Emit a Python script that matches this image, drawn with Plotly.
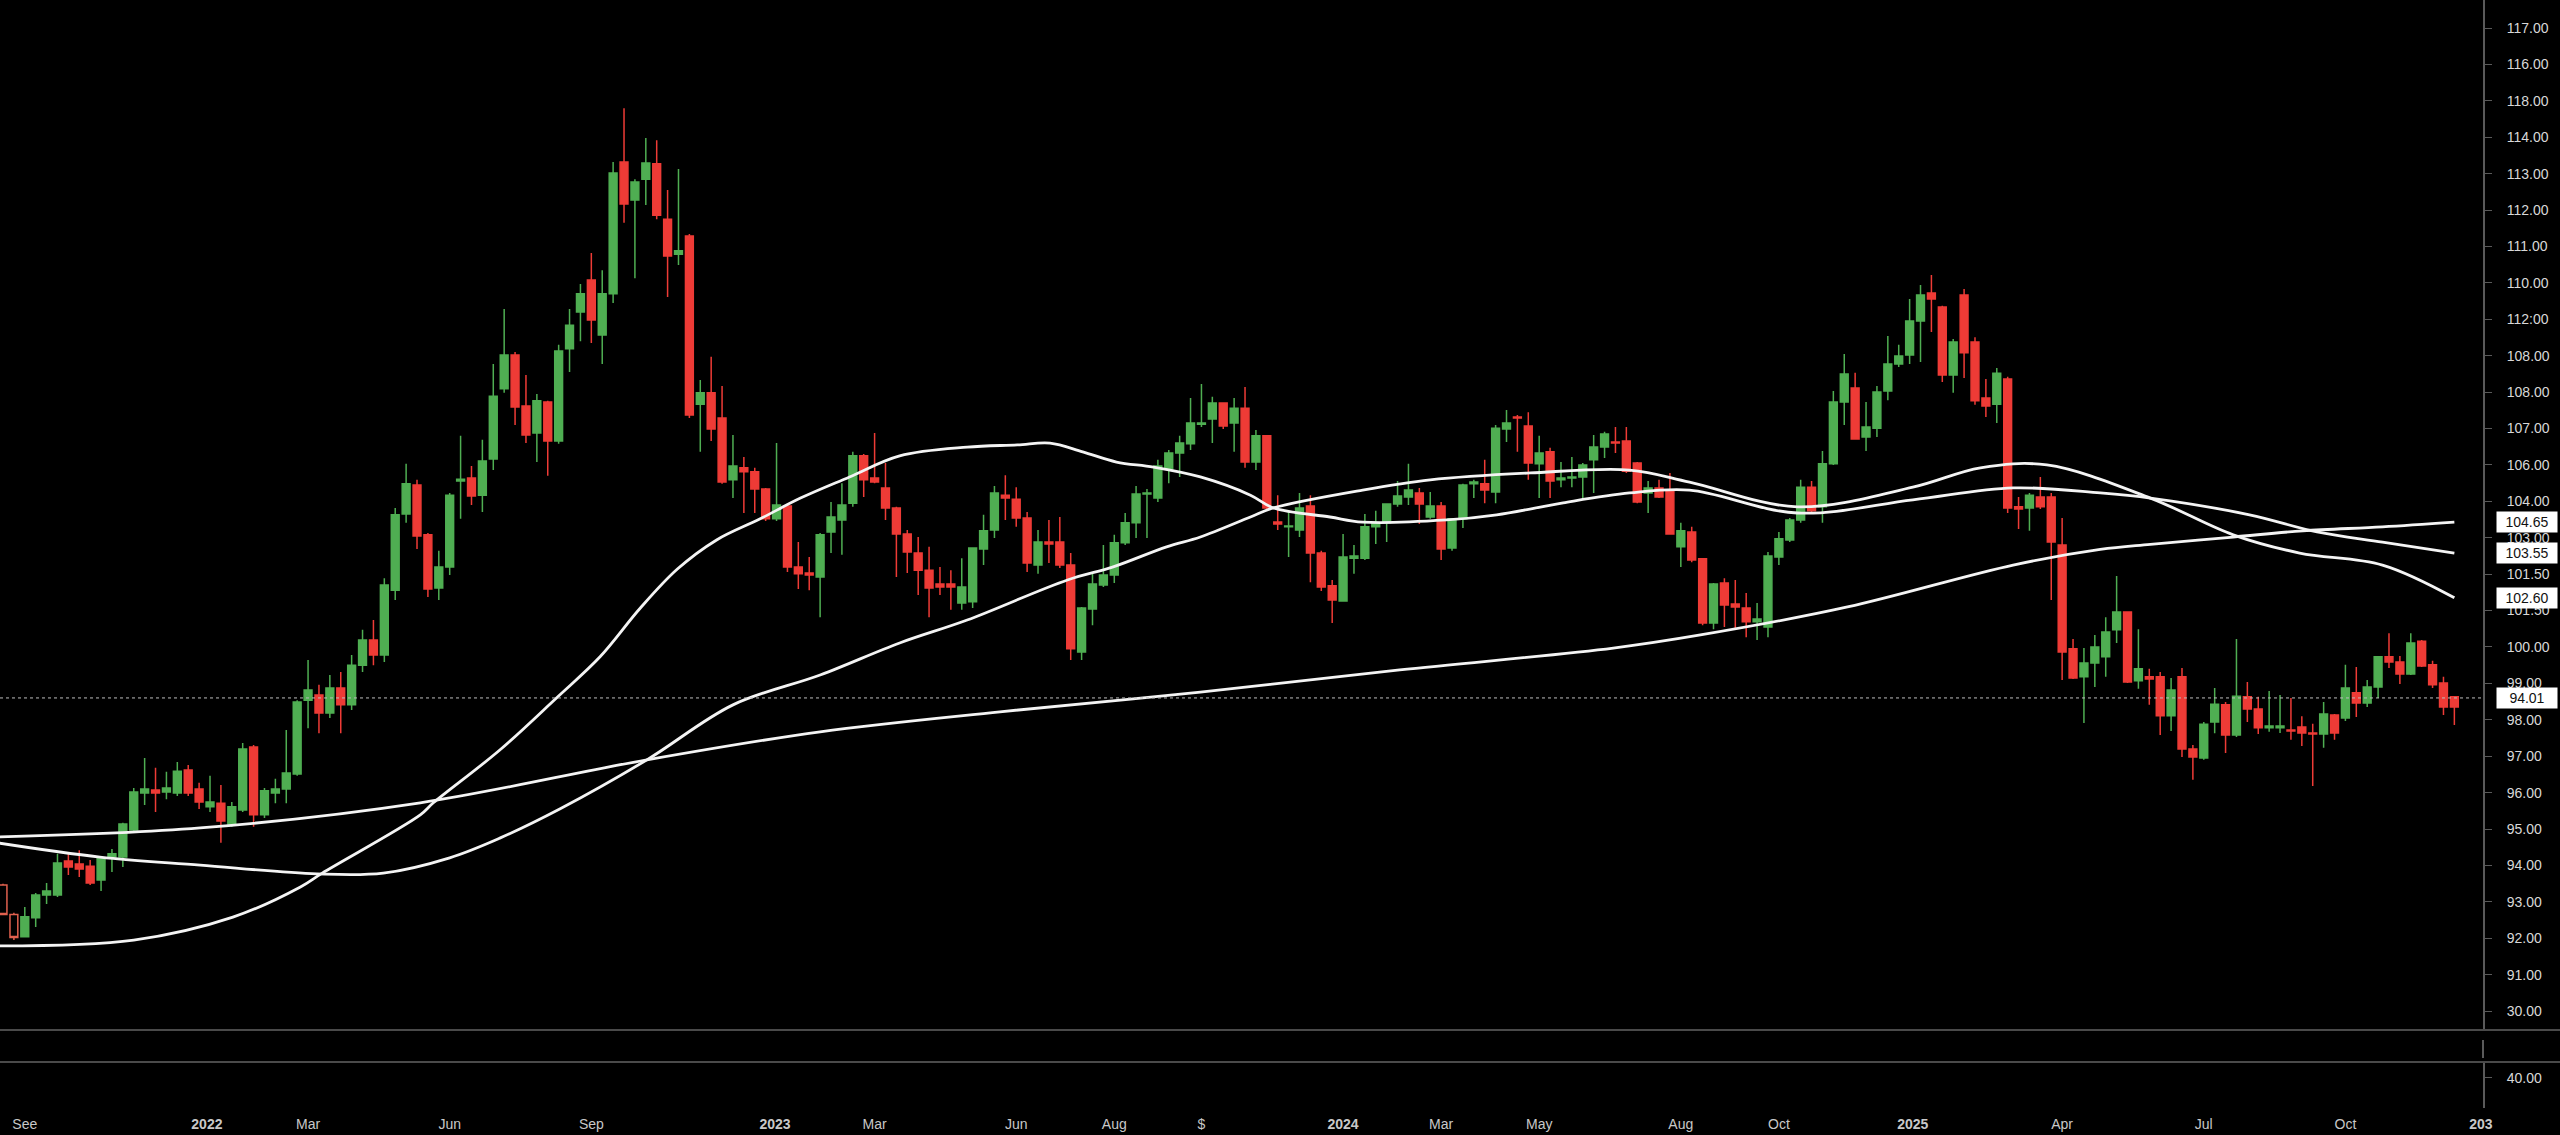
import numpy as np
import pandas as pd
import plotly.graph_objects as go

# ---------------- data (weekly candles) ----------------
start_week = "2021-08-23"

opens = [93.46, 92.65, 92.04, 92.56, 93.19, 93.19, 94.12, 94.04, 93.98, 93.60,
         94.23, 94.23, 94.97, 95.99, 96.07, 96.02, 95.99, 96.62, 96.10, 95.61,
         95.71, 95.14, 95.52, 97.25, 95.39, 95.99, 96.10, 96.51, 98.54, 98.68,
         98.19, 98.87, 98.41, 99.50, 100.19, 99.78, 101.56, 103.65, 104.45, 103.08,
         101.62, 102.20, 104.56, 104.64, 104.17, 105.16, 107.09, 108.02, 106.62, 105.88,
         106.73, 105.66, 108.19, 109.20, 110.08, 108.57, 109.70, 113.32, 112.28, 112.85,
         113.27, 111.75, 110.79, 111.29, 106.67, 106.98, 106.29, 104.59, 104.92, 104.81,
         104.34, 103.52, 103.87, 102.20, 102.03, 101.92, 103.16, 103.49, 103.95, 105.25,
         104.64, 104.37, 103.82, 103.10, 102.58, 102.11, 101.73, 101.73, 101.21, 101.24,
         102.69, 103.21, 104.17, 104.06, 103.54, 102.25, 102.88, 102.88, 102.25, 99.86,
         101.04, 101.70, 101.98, 102.86, 103.41, 104.20, 104.09, 104.89, 105.33, 105.58,
         106.12, 106.26, 106.70, 106.15, 106.56, 105.08, 105.80, 103.43, 103.30, 103.21,
         103.87, 102.58, 101.68, 101.26, 102.44, 102.44, 103.30, 103.41, 103.93, 104.12,
         104.23, 103.57, 103.87, 102.72, 103.52, 104.48, 104.48, 104.26, 105.99, 106.32,
         106.07, 105.03, 105.36, 104.59, 104.64, 104.67, 105.14, 105.49, 105.63, 105.66,
         105.05, 104.23, 104.37, 104.28, 102.75, 103.16, 102.42, 100.66, 101.76, 101.18,
         101.07, 100.69, 100.55, 102.47, 102.94, 103.49, 104.39, 103.85, 105.03, 106.73,
         107.11, 105.77, 106.01, 107.03, 107.77, 108.02, 108.95, 109.72, 109.34, 107.47,
         109.67, 108.38, 106.84, 106.67, 107.36, 103.85, 103.82, 104.12, 104.12, 102.80,
         99.95, 99.18, 99.56, 99.73, 100.47, 100.96, 99.07, 99.18, 99.18, 98.11,
         99.18, 97.20, 96.95, 97.94, 98.41, 97.58, 98.63, 98.30, 97.78, 97.78,
         97.72, 97.80, 97.64, 97.61, 98.13, 98.05, 98.74, 98.46, 98.90, 99.73,
         99.59, 99.26, 100.16, 99.51, 99.01, 98.63]

highs = [93.50, 92.70, 92.86, 93.24, 93.52, 94.32, 94.34, 94.42, 94.15, 94.23,
         94.45, 95.17, 96.13, 96.95, 96.68, 96.57, 96.84, 96.76, 96.27, 96.46,
         96.21, 95.74, 97.36, 97.31, 96.13, 96.38, 97.72, 98.54, 99.64, 98.96,
         99.23, 99.31, 99.78, 100.47, 100.74, 101.89, 103.82, 105.03, 104.59, 103.13,
         102.64, 104.23, 105.80, 104.97, 105.69, 107.77, 109.28, 108.10, 107.47, 106.95,
         106.76, 108.30, 109.28, 109.97, 110.82, 110.35, 113.32, 114.80, 112.85, 113.98,
         113.92, 112.55, 113.13, 111.34, 107.33, 107.97, 107.17, 105.82, 105.22, 104.92,
         104.37, 105.60, 103.90, 102.88, 102.47, 103.13, 103.98, 104.50, 105.36, 105.30,
         105.88, 105.05, 103.85, 103.21, 103.02, 102.75, 102.20, 102.11, 102.44, 102.72,
         103.63, 104.42, 104.72, 104.39, 103.71, 103.21, 103.49, 103.57, 102.58, 101.10,
         102.01, 102.80, 103.08, 103.68, 104.42, 104.34, 105.14, 105.41, 105.80, 106.84,
         107.22, 106.87, 106.70, 106.84, 107.14, 105.96, 105.82, 104.17, 103.71, 104.23,
         104.17, 102.64, 101.84, 103.10, 102.80, 103.65, 103.74, 103.95, 104.56, 105.03,
         104.37, 104.26, 103.98, 103.54, 104.48, 104.59, 105.14, 106.10, 106.51, 106.37,
         106.45, 105.80, 105.47, 105.08, 105.22, 105.05, 105.82, 105.91, 106.04, 106.04,
         105.08, 104.56, 104.59, 104.78, 103.41, 103.30, 102.44, 101.76, 101.89, 101.84,
         101.48, 101.21, 102.61, 103.16, 103.54, 104.59, 104.56, 105.38, 107.03, 108.05,
         107.53, 106.73, 107.17, 108.54, 108.30, 109.56, 109.94, 110.22, 109.37, 108.46,
         109.83, 108.51, 107.36, 107.66, 107.42, 104.12, 104.23, 104.67, 104.23, 103.54,
         100.22, 99.97, 100.33, 100.82, 101.95, 100.96, 100.49, 99.40, 99.31, 99.15,
         99.42, 97.31, 97.94, 98.87, 98.49, 100.22, 99.04, 98.63, 98.79, 98.68,
         98.60, 98.10, 97.89, 98.49, 98.16, 99.51, 99.45, 99.09, 99.75, 100.38,
         99.75, 100.38, 100.19, 99.62, 99.18, 98.65]

lows = [92.63, 91.95, 92.02, 92.31, 92.94, 93.13, 93.74, 93.68, 93.46, 93.30,
        93.82, 93.96, 94.92, 95.66, 95.47, 95.82, 95.91, 95.91, 95.55, 95.47,
        94.62, 95.06, 95.47, 95.06, 95.30, 95.71, 95.71, 96.46, 97.77, 97.63,
        98.05, 97.63, 98.27, 99.31, 99.50, 99.59, 101.29, 103.41, 102.69, 101.37,
        101.29, 101.98, 103.52, 103.90, 103.71, 104.86, 106.98, 106.10, 105.60, 105.08,
        104.70, 105.58, 107.55, 108.40, 108.35, 107.77, 109.45, 111.65, 110.13, 112.14,
        111.75, 109.61, 110.49, 106.29, 105.36, 105.66, 104.48, 104.09, 103.68, 103.68,
        103.46, 103.46, 102.06, 101.59, 101.56, 100.82, 102.58, 102.53, 103.85, 104.12,
        104.50, 103.49, 101.92, 102.03, 101.43, 100.82, 101.43, 101.02, 101.02, 101.07,
        102.25, 102.99, 103.49, 103.30, 102.06, 102.01, 102.31, 102.17, 99.64, 99.64,
        100.60, 101.65, 101.76, 102.80, 102.99, 102.99, 103.98, 104.50, 104.67, 105.41,
        106.04, 105.60, 105.99, 105.36, 104.92, 104.86, 103.76, 103.21, 102.47, 103.02,
        101.78, 101.54, 100.66, 101.24, 102.01, 102.39, 102.83, 102.88, 103.85, 103.90,
        103.38, 103.52, 102.39, 102.64, 103.27, 104.09, 103.95, 103.95, 105.63, 105.36,
        104.59, 104.09, 104.09, 104.39, 104.39, 104.04, 104.23, 105.19, 105.33, 104.78,
        103.95, 103.68, 104.09, 103.08, 102.20, 102.33, 100.60, 100.49, 100.55, 100.52,
        100.27, 100.19, 100.27, 102.25, 102.88, 103.41, 103.68, 103.41, 105.00, 106.10,
        105.69, 105.38, 105.77, 106.78, 107.69, 107.77, 107.83, 108.65, 107.28, 106.98,
        107.39, 106.65, 106.32, 106.15, 103.68, 103.24, 103.19, 103.79, 101.29, 99.09,
        99.12, 97.91, 98.90, 99.18, 100.11, 99.01, 98.85, 98.41, 97.58, 97.69,
        96.98, 96.35, 96.90, 97.63, 97.09, 97.53, 97.94, 97.61, 97.67, 97.64,
        97.45, 97.28, 96.18, 97.23, 97.45, 97.97, 98.08, 98.35, 98.60, 99.42,
        98.98, 99.23, 99.45, 98.87, 98.13, 97.86]

closes = [92.65, 92.02, 92.59, 93.19, 93.30, 94.07, 93.96, 93.90, 93.52, 94.21,
          94.32, 95.14, 96.02, 96.10, 95.99, 96.13, 96.59, 95.99, 95.74, 95.74,
          95.22, 95.61, 97.20, 95.39, 96.05, 96.10, 96.54, 98.49, 98.82, 98.19,
          98.87, 98.41, 99.50, 100.19, 99.78, 101.70, 103.63, 104.48, 103.05, 101.59,
          102.20, 104.17, 104.61, 104.15, 105.11, 106.89, 108.02, 106.59, 105.82, 106.76,
          105.66, 108.13, 108.84, 109.70, 108.98, 109.70, 113.02, 112.17, 112.77, 113.29,
          111.86, 110.74, 110.88, 106.37, 106.98, 105.99, 104.53, 104.97, 104.81, 104.34,
          103.52, 103.90, 102.20, 102.01, 101.98, 103.08, 103.57, 103.90, 105.25, 104.59,
          104.53, 103.82, 103.10, 102.61, 102.11, 101.62, 101.65, 101.65, 101.65, 102.72,
          103.19, 104.23, 104.09, 103.54, 102.31, 102.88, 102.83, 102.25, 99.95, 101.07,
          101.73, 101.98, 102.86, 103.41, 104.20, 104.23, 104.97, 105.33, 105.60, 106.15,
          106.15, 106.70, 106.07, 106.56, 105.08, 105.80, 103.82, 103.38, 103.32, 103.82,
          102.58, 101.65, 101.29, 102.47, 102.50, 103.30, 103.41, 103.93, 104.15, 104.31,
          103.93, 103.87, 102.69, 103.52, 104.45, 104.53, 104.31, 106.01, 106.15, 106.29,
          105.05, 105.33, 104.56, 104.64, 104.67, 105.00, 105.49, 105.85, 105.60, 104.83,
          103.98, 104.37, 104.12, 103.10, 103.19, 102.39, 100.66, 101.73, 101.15, 101.10,
          100.69, 100.77, 102.50, 102.97, 103.49, 104.39, 103.74, 105.03, 106.73, 107.50,
          105.71, 106.04, 107.00, 107.77, 107.99, 108.95, 109.67, 109.56, 107.47, 108.38,
          108.08, 106.76, 106.62, 107.52, 103.82, 103.79, 104.17, 103.85, 102.88, 99.86,
          99.15, 99.56, 100.00, 100.41, 100.96, 99.04, 99.40, 99.12, 98.11, 98.82,
          97.20, 96.98, 97.88, 98.43, 97.58, 98.65, 98.30, 97.78, 97.83, 97.83,
          97.69, 97.64, 97.61, 98.16, 97.64, 98.87, 98.46, 98.90, 99.73, 99.59,
          99.26, 100.11, 99.48, 98.96, 98.35, 98.35]

# moving-average lines (position in weeks from start_week, value)
ma_a_weeks = [-0.5, 12, 21.1, 27.3, 29.3, 38.3, 39.5, 45.6, 50.8, 54.8, 58.5, 61.9, 65.5, 69.5,
              73.2, 77.7, 82.3, 88.5, 93.1, 96.1, 99.1, 102.2, 105.6, 109.9, 114.5, 116.6, 121.8,
              124.8, 132.5, 137.1, 143.2, 149.3, 154.8, 164.7, 175.3, 184.5, 192.5, 197.1, 206.2,
              212.4, 218.4, 225]
ma_a_vals = [91.79, 91.95, 92.58, 93.41, 93.79, 95.39, 95.72, 97.17, 98.60, 99.73, 101.07, 102.14,
             102.94, 103.52, 104.09, 104.67, 105.25, 105.49, 105.55, 105.60, 105.36, 105.08, 104.94,
             104.67, 104.17, 103.82, 103.57, 103.43, 103.49, 103.63, 103.96, 104.23, 104.31, 103.68,
             104.04, 104.37, 104.23, 104.09, 103.63, 103.16, 102.88, 102.58]

ma_b_weeks = [-0.5, 8.9, 18.1, 28.8, 34.9, 41.0, 45.6, 51.1, 59.1, 67.0, 75.0, 82.3, 88.5, 97.7,
              101.9, 106.8, 109.9, 114.5, 116.6, 124.8, 131.0, 140.2, 149.3, 154.8, 164.7, 175.3,
              181.5, 187.6, 197.1, 204.7, 210.8, 218.4, 225]
ma_b_vals = [94.62, 94.23, 94.01, 93.77, 93.79, 94.21, 94.75, 95.55, 96.90, 98.41, 99.23, 100.11,
             100.74, 101.84, 102.20, 102.75, 103.02, 103.57, 103.82, 104.31, 104.59, 104.78, 104.86,
             104.53, 103.85, 104.39, 104.92, 105.00, 104.09, 103.08, 102.58, 102.25, 101.35]

ma_c_weeks = [-0.5, 18.1, 38.3, 59.1, 75.0, 91.5, 109.9, 128.2, 147.8, 155.8, 169.3, 184.5,
              192.5, 197.1, 204.7, 211.1, 218.4, 225]
ma_c_vals = [94.78, 95.03, 95.72, 96.90, 97.67, 98.22, 98.76, 99.37, 99.97, 100.33, 101.10,
             102.25, 102.68, 102.82, 103.02, 103.19, 103.30, 103.43]

last_price = 98.60
end_labels = ["104.65", "103.55", "102.60"]
last_price_label = "94.01"

y_tick_vals = list(range(90, 118))
y_tick_text = ["30.00", "91.00", "92.00", "93.00", "94.00", "95.00", "96.00", "97.00",
               "98.00", "99.00", "100.00", "101.50", "101.50", "103.00", "104.00", "106.00",
               "107.00", "108.00", "108.00", "112:00", "110.00", "111.00", "112.00", "113.00",
               "114.00", "118.00", "116.00", "117.00"]

x_tick_vals = ["2021-09-06", "2022-01-01", "2022-03-07", "2022-06-06", "2022-09-05",
               "2023-01-01", "2023-03-06", "2023-06-05", "2023-08-07", "2023-10-02",
               "2024-01-01", "2024-03-04", "2024-05-06", "2024-08-05", "2024-10-07",
               "2025-01-01", "2025-04-07", "2025-07-07", "2025-10-06", "2026-01-01"]
x_tick_text = ["See", "2022", "Mar", "Jun", "Sep", "2023", "Mar", "Jun", "Aug", "$",
               "2024", "Mar", "May", "Aug", "Oct", "2025", "Apr", "Jul", "Oct", "203"]
year_labels = {"2022", "2023", "2024", "2025", "203"}

lower_tick_vals = [40]
lower_tick_text = ["40.00"]

# ---------------- styling ----------------
GREEN = "#4fae52"
RED = "#ee3b36"
HOLLOW = "#e0604e"
AXIS = "#5a5a5a"
SEP = "#4a4a4a"
FONT = "Liberation Sans, Arial, sans-serif"

dates = pd.date_range(start_week, periods=len(opens), freq="7D")
t0 = pd.Timestamp(start_week)


def to_dates(weeks):
    return t0 + pd.to_timedelta(np.array(weeks) * 7.0, unit="D")


fig = go.Figure()

# hollow first candles
fig.add_trace(go.Candlestick(
    x=dates[:2], open=opens[:2], high=highs[:2], low=lows[:2], close=closes[:2],
    increasing=dict(line=dict(color=HOLLOW, width=1.5), fillcolor="rgba(0,0,0,0)"),
    decreasing=dict(line=dict(color=HOLLOW, width=1.5), fillcolor="rgba(0,0,0,0)"),
    whiskerwidth=0, showlegend=False, hoverinfo="skip"))

fig.add_trace(go.Candlestick(
    x=dates[2:], open=opens[2:], high=highs[2:], low=lows[2:], close=closes[2:],
    increasing=dict(line=dict(color=GREEN, width=1.5), fillcolor=GREEN),
    decreasing=dict(line=dict(color=RED, width=1.5), fillcolor=RED),
    whiskerwidth=0, showlegend=False, hoverinfo="skip"))

for wk, vals in [(ma_c_weeks, ma_c_vals), (ma_b_weeks, ma_b_vals), (ma_a_weeks, ma_a_vals)]:
    fig.add_trace(go.Scatter(
        x=to_dates(wk), y=vals, mode="lines",
        line=dict(color="#f4f4f4", width=2.8, shape="spline", smoothing=1.0),
        showlegend=False, hoverinfo="skip"))

# empty trace to create the lower pane
fig.add_trace(go.Scatter(x=[], y=[], xaxis="x", yaxis="y2", showlegend=False))

# geometry
W, H = 2560, 1135
ML, MR, MT, MB = 0, 77, 0, 27
plot_h = H - MT - MB
main_bottom_px = 1030
lower_top_px = 1062
main_dom0 = (H - MB - main_bottom_px) / plot_h
lower_dom1 = (H - MB - lower_top_px) / plot_h
paper_right = (W - ML) / (W - ML - MR)

year_fmt = [("<b>%s</b>" % t) if t in year_labels else t for t in x_tick_text]

fig.update_layout(
    width=W, height=H,
    margin=dict(l=ML, r=MR, t=MT, b=MB, pad=0),
    paper_bgcolor="#000000", plot_bgcolor="#000000",
    showlegend=False,
    boxgap=0.28, boxgroupgap=0.0,
    font=dict(family=FONT, color="#d4d4d4"),
    xaxis=dict(
        type="date", range=["2021-08-21 01:40", "2026-01-02 09:36"],
        anchor="y2", rangeslider=dict(visible=False),
        showgrid=False, zeroline=False, showline=False, ticks="",
        tickmode="array", tickvals=x_tick_vals, ticktext=year_fmt, tickangle=0,
        tickfont=dict(family=FONT, size=14, color="#c8c8c8"),
        ticklabelstandoff=6,
    ),
    yaxis=dict(
        domain=[main_dom0, 1.0], range=[89.48, 117.77], side="right",
        showgrid=False, zeroline=False, showline=True, linecolor=AXIS, linewidth=2,
        ticks="outside", ticklen=7, tickwidth=1, tickcolor=AXIS,
        tickmode="array", tickvals=y_tick_vals, ticktext=y_tick_text,
        tickfont=dict(family=FONT, size=14, color="#d8d8d8"),
        ticklabelstandoff=12, fixedrange=True,
    ),
    yaxis2=dict(
        domain=[0.0, lower_dom1], range=[0, 61.3], side="right",
        showgrid=False, zeroline=False, showline=True, linecolor=AXIS, linewidth=2,
        ticks="outside", ticklen=7, tickwidth=1, tickcolor=AXIS,
        tickmode="array", tickvals=lower_tick_vals, ticktext=lower_tick_text,
        tickfont=dict(family=FONT, size=14, color="#d8d8d8"),
        ticklabelstandoff=12,
    ),
)

shapes = [
    dict(type="line", xref="paper", yref="paper", x0=0, x1=paper_right,
         y0=main_dom0, y1=main_dom0, line=dict(color=SEP, width=2)),
    dict(type="line", xref="paper", yref="paper", x0=0, x1=paper_right,
         y0=lower_dom1, y1=lower_dom1, line=dict(color=SEP, width=2)),
    dict(type="line", xref="paper", yref="paper", x0=1, x1=1,
         y0=(H - MB - 1058) / plot_h, y1=(H - MB - 1040) / plot_h,
         line=dict(color=AXIS, width=2)),
    dict(type="line", xref="paper", yref="y", x0=0, x1=1, y0=last_price, y1=last_price,
         line=dict(color="#bdbdbd", width=1, dash="dot")),
]
fig.update_layout(shapes=shapes)

anns = []
for txt, yv in zip(end_labels, [ma_c_vals[-1], ma_a_vals[-1], ma_b_vals[-1]]):
    anns.append(dict(xref="paper", yref="y", x=1, y=yv, xanchor="left", yanchor="middle",
                     xshift=13, text=txt, showarrow=False, bgcolor="#ffffff",
                     font=dict(family=FONT, size=14, color="#111111"),
                     width=58, height=18, borderpad=1, align="center"))
anns.append(dict(xref="paper", yref="y", x=1, y=last_price, xanchor="left", yanchor="middle",
                 xshift=13, text=last_price_label, showarrow=False, bgcolor="#ffffff",
                 font=dict(family=FONT, size=14, color="#111111"),
                 width=58, height=18, borderpad=1, align="center"))
fig.update_layout(annotations=anns)

fig.write_html(
    "out.html",
    config={"displayModeBar": False},
    post_script="document.body.style.margin='0';document.body.style.background='#000';",
)
